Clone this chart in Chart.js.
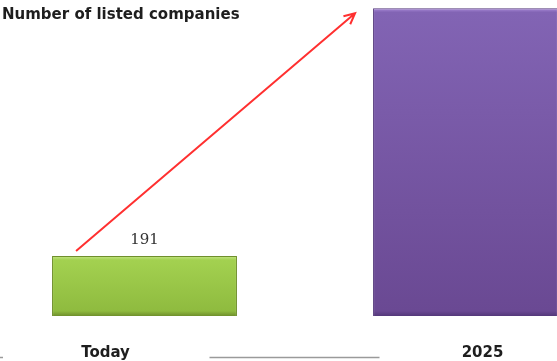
<!DOCTYPE html>
<html>
<head>
<meta charset="utf-8">
<script src="https://cdn.jsdelivr.net/npm/chart.js@4"></script>
<style>
  html, body { margin: 0; padding: 0; background: #fff; overflow: hidden; }
  body { width: 557px; height: 361px; position: relative; }
  #wrap { position: absolute; left: -16px; top: 0; width: 642px; height: 361px; }
</style>
</head>
<body>
<div id="wrap"><canvas id="chart1" width="642" height="361"></canvas></div>
<script>
// listed companies, today vs 2025 target
var chartTitle = 'Number of listed companies';
var categories = ['Today', '2025'];
var companies = [191, 980];
var valueLabels = ['191', ''];

// face / light edge / dark edge per bar
var faceTop = ['#a3d150', '#8264b4'];
var faceBottom = ['#8fbb3f', '#6a4993'];
var lightEdge = ['#c4e585', '#a98ad8'];
var darkEdge = ['#6f8f2c', '#54387a'];

function barFill(context) {
    var chart = context.chart;
    var i = context.dataIndex;
    if (!chart.chartArea) return faceTop[i];
    var y = chart.scales.y;
    var top = y.getPixelForValue(companies[i]);
    var bottom = y.getPixelForValue(0);
    var h = bottom - top;
    var g = chart.ctx.createLinearGradient(0, top, 0, bottom);
    g.addColorStop(0, lightEdge[i]);
    g.addColorStop(Math.min(0.4, 4 / h), faceTop[i]);
    g.addColorStop(Math.max(0.6, 1 - 5 / h), faceBottom[i]);
    g.addColorStop(1, darkEdge[i]);
    return g;
}

// title, value label, category labels, baseline stroke and growth arrow
var decorations = {
    id: 'decorations',
    afterDatasetsDraw: function(chart) {
        var ctx = chart.ctx;
        var bars = chart.getDatasetMeta(0).data;
        ctx.save();

        ctx.fillStyle = '#1e1e1e';
        ctx.font = 'bold 15px "DejaVu Sans", sans-serif';
        ctx.textAlign = 'left';
        ctx.textBaseline = 'alphabetic';
        ctx.fillText(chartTitle, 18, 18.5);

        ctx.fillStyle = '#333';
        ctx.font = '15px "DejaVu Serif", serif';
        ctx.textAlign = 'center';
        bars.forEach(function(bar, i) {
            if (valueLabels[i]) ctx.fillText(valueLabels[i], bar.x, bar.y - 12);
        });

        var shift = [-39, 17];
        ctx.font = 'bold 15px "DejaVu Sans", sans-serif';
        ctx.fillStyle = '#1e1e1e';
        bars.forEach(function(bar, i) {
            ctx.fillText(categories[i], bar.x + shift[i], 357);
        });

        ctx.strokeStyle = '#9a9a9a';
        ctx.lineWidth = 1.5;
        ctx.beginPath();
        ctx.moveTo(bars[0].x + 65, 357.5);
        ctx.lineTo(bars[1].x - 86, 357.5);
        ctx.moveTo(16, 357.5);
        ctx.lineTo(19, 357.5);
        ctx.stroke();

        var x0 = bars[0].x - bars[0].width / 2 + 24, y0 = bars[0].y - 5;
        var x1 = bars[1].x - bars[1].width / 2 - 18, y1 = bars[1].y + 5;
        var a = Math.atan2(y1 - y0, x1 - x0);
        ctx.strokeStyle = '#ff3030';
        ctx.lineWidth = 2;
        ctx.beginPath();
        ctx.moveTo(x0, y0);
        ctx.lineTo(x1, y1);
        ctx.moveTo(x1 - 12 * Math.cos(a - 0.45), y1 - 12 * Math.sin(a - 0.45));
        ctx.lineTo(x1, y1);
        ctx.lineTo(x1 - 12 * Math.cos(a + 0.45), y1 - 12 * Math.sin(a + 0.45));
        ctx.stroke();

        ctx.restore();
    }
};

var ctx = document.getElementById('chart1').getContext('2d');
var myChart = new Chart(ctx, {
    type: 'bar',
    data: {
        labels: categories,
        datasets: [{
            data: companies,
            backgroundColor: barFill,
            borderColor: darkEdge,
            borderWidth: 1,
            barPercentage: 0.576,
            categoryPercentage: 1
        }]
    },
    options: {
        responsive: false,
        animation: false,
        layout: {
            padding: { top: 2, bottom: 45, left: 0, right: 0 }
        },
        plugins: {
            legend: { display: false },
            tooltip: { enabled: false }
        },
        scales: {
            x: { display: false },
            y: { display: false, min: 0, max: 1000 }
        }
    },
    plugins: [decorations]
});
</script>
</body>
</html>
